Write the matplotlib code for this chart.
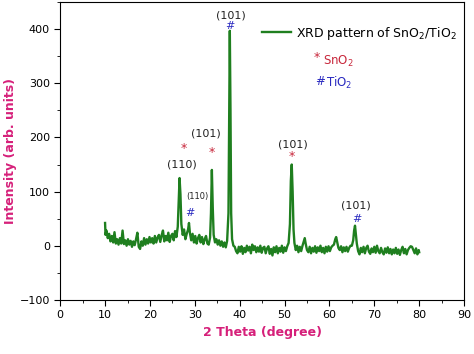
import matplotlib.pyplot as plt
from matplotlib.ticker import MultipleLocator

## the data
two_theta = [10.0, 10.1, 10.3, 10.6, 10.9, 11.2, 11.5, 11.8, 12.1, 12.4, 12.7, 13.0, 13.3, 13.6, 13.9,
             14.2, 14.5, 14.8, 15.1, 15.4, 15.7, 16.0, 16.3, 16.6, 16.9, 17.2, 17.5, 17.8, 18.1, 18.4,
             18.7, 19.0, 19.3, 19.6, 19.9, 20.2, 20.5, 20.8, 21.1, 21.4, 21.7, 22.0, 22.3, 22.6, 22.9,
             23.2, 23.5, 23.8, 24.1, 24.4, 24.7, 25.0, 25.3, 25.6, 25.9, 26.2, 26.4, 26.6, 26.8, 27.0,
             27.3, 27.6, 27.9, 28.2, 28.5, 28.7, 28.9, 29.2, 29.5, 29.8, 30.1, 30.4, 30.7, 31.0, 31.3,
             31.6, 31.9, 32.2, 32.5, 32.8, 33.1, 33.4, 33.6, 33.8, 34.0, 34.2, 34.5, 34.8, 35.1, 35.4,
             35.7, 36.0, 36.3, 36.6, 36.9, 37.2, 37.5, 37.7, 37.8, 37.95, 38.1, 38.3, 38.6, 38.9, 39.2,
             39.5, 39.8, 40.1, 40.4, 40.7, 41.0, 41.3, 41.6, 41.9, 42.2, 42.5, 42.8, 43.1, 43.4, 43.7,
             44.0, 44.3, 44.6, 44.9, 45.2, 45.5, 45.8, 46.1, 46.4, 46.7, 47.0, 47.3, 47.6, 47.9, 48.2,
             48.5, 48.8, 49.1, 49.4, 49.7, 50.0, 50.3, 50.6, 50.9, 51.2, 51.4, 51.6, 51.8, 52.0, 52.2,
             52.5, 52.8, 53.1, 53.4, 53.7, 54.0, 54.3, 54.5, 54.7, 55.0, 55.3, 55.6, 55.9, 56.2, 56.5,
             56.8, 57.1, 57.4, 57.7, 58.0, 58.3, 58.6, 58.9, 59.2, 59.5, 59.8, 60.1, 60.4, 60.7, 61.0,
             61.3, 61.5, 61.7, 62.0, 62.3, 62.6, 62.9, 63.2, 63.5, 63.8, 64.1, 64.4, 64.7, 65.0, 65.3,
             65.5, 65.7, 65.9, 66.1, 66.4, 66.7, 67.0, 67.3, 67.6, 67.9, 68.2, 68.5, 68.8, 69.1, 69.4,
             69.7, 70.0, 70.3, 70.6, 70.9, 71.2, 71.5, 71.8, 72.1, 72.4, 72.7, 73.0, 73.3, 73.6, 73.9,
             74.2, 74.5, 74.8, 75.1, 75.4, 75.7, 76.0, 76.3, 76.6, 76.9, 77.2, 77.5, 77.8, 78.1, 78.4,
             78.7, 79.0, 79.3, 79.6, 79.9, 80.0]
intensity = [42, 20, 28, 14, 22, 8, 18, 6, 25, 4, 12, 2, 14, 4, 28,
             3, 10, 0, 12, 2, 9, -2, 8, 1, 12, 24, -2, -6, 8, 0,
             14, 2, 12, 4, 16, 6, 14, 4, 18, 6, 15, 20, 7, 19, 28,
             8, 18, 10, 24, 7, 18, 22, 10, 27, 16, 35, 80, 125, 95, 40,
             20, 30, 12, 22, 30, 42, 24, 10, 22, 6, 18, 4, 14, 20, 6,
             16, 3, 12, 18, 4, 2, 15, 60, 140, 70, 20, 6, 12, 2, 10,
             0, 8, -2, 6, -3, 9, 60, 270, 397, 250, 60, 12, 0, -2, -10,
             -14, -2, -11, -1, -15, -4, -12, 0, -9, -2, -14, 2, -8, -1, -12,
             -3, -11, 0, -13, -4, -2, -14, -5, -1, -15, -6, -18, -3, -12, -1,
             -14, -4, -11, 0, -13, -3, -10, -1, 5, 40, 120, 150, 100, 30, 5,
             -8, 0, -12, -2, -10, 0, 8, 14, 4, -8, -12, -2, -14, -4, -11,
             -1, -13, -3, -10, 0, -12, -4, -14, -2, -11, -1, -10, -3, 0, 2,
             12, 16, 8, -4, -8, -1, -12, -3, -10, -2, -11, -4, 0, 0, 10,
             28, 37, 20, 4, -10, -16, -4, -12, -2, -14, -4, 0, -11, -15, -5,
             -12, -2, -13, 0, -10, -14, -4, -12, -16, -5, -13, -3, -14, -6, -16,
             -7, -14, -4, -15, -7, -17, -8, -2, -14, -6, -16, -8, -4, -1, -2,
             -8, -14, -5, -16, -8, -12]

# peak labels: (x, y, text, size)
hkl_labels = [(38.1, 425, '(101)', 8), (27.1, 150, '(110)', 8), (32.5, 207, '(101)', 8),
              (51.9, 187, '(101)', 8), (30.5, 90, '(110)', 6), (66.0, 75, '(101)', 8)]
sno2_marks = [(27.6, 180), (33.8, 173), (51.7, 165)]
tio2_marks = [(37.9, 405), (28.8, 60), (66.1, 49)]

pink = '#d6207a'
green = '#1f7f1f'
red = '#c8283c'
blue = '#2a2ac0'

fig = plt.figure(figsize=(4.74, 3.54), dpi=100)
ax = fig.add_axes([0.127, 0.153, 0.852, 0.841])

ax.plot(two_theta, intensity, color=green, lw=1.7, label='XRD pattern of SnO$_2$/TiO$_2$')

for x, y, t, s in hkl_labels:
    ax.text(x, y, t, ha='center', va='center', fontsize=s, color='#222222')
for x, y in sno2_marks:
    ax.text(x, y, '*', ha='center', va='center', fontsize=9, color=red)
for x, y in tio2_marks:
    ax.text(x, y, '#', ha='center', va='center', fontsize=8, color=blue)

ax.text(57.2, 347, '*', ha='center', va='center', fontsize=9, color=red)
ax.text(58.6, 340, 'SnO$_2$', ha='left', va='center', fontsize=8.5, color=red)
ax.text(57.8, 303, '#', ha='center', va='center', fontsize=8.5, color=blue)
ax.text(59.2, 300, 'TiO$_2$', ha='left', va='center', fontsize=8.5, color=blue)

leg = ax.legend(loc='upper right', bbox_to_anchor=(1.0, 0.95), frameon=False,
                fontsize=9, handlelength=2.3, handletextpad=0.4, borderaxespad=0.2)

## axes and labels
ax.set_xlim(0, 90)
ax.set_ylim(-100, 450)
ax.xaxis.set_major_locator(MultipleLocator(10))
ax.xaxis.set_minor_locator(MultipleLocator(5))
ax.yaxis.set_major_locator(MultipleLocator(100))
ax.yaxis.set_minor_locator(MultipleLocator(50))
ax.tick_params(which='major', length=4, labelsize=8)
ax.tick_params(which='minor', length=2)
ax.set_xlabel('2 Theta (degree)', color=pink, fontweight='bold', fontsize=9)
ax.set_ylabel('Intensity (arb. units)', color=pink, fontweight='bold', fontsize=9)
ax.yaxis.set_label_coords(-0.108, 0.5)

fig.savefig('out.png', dpi=100)
